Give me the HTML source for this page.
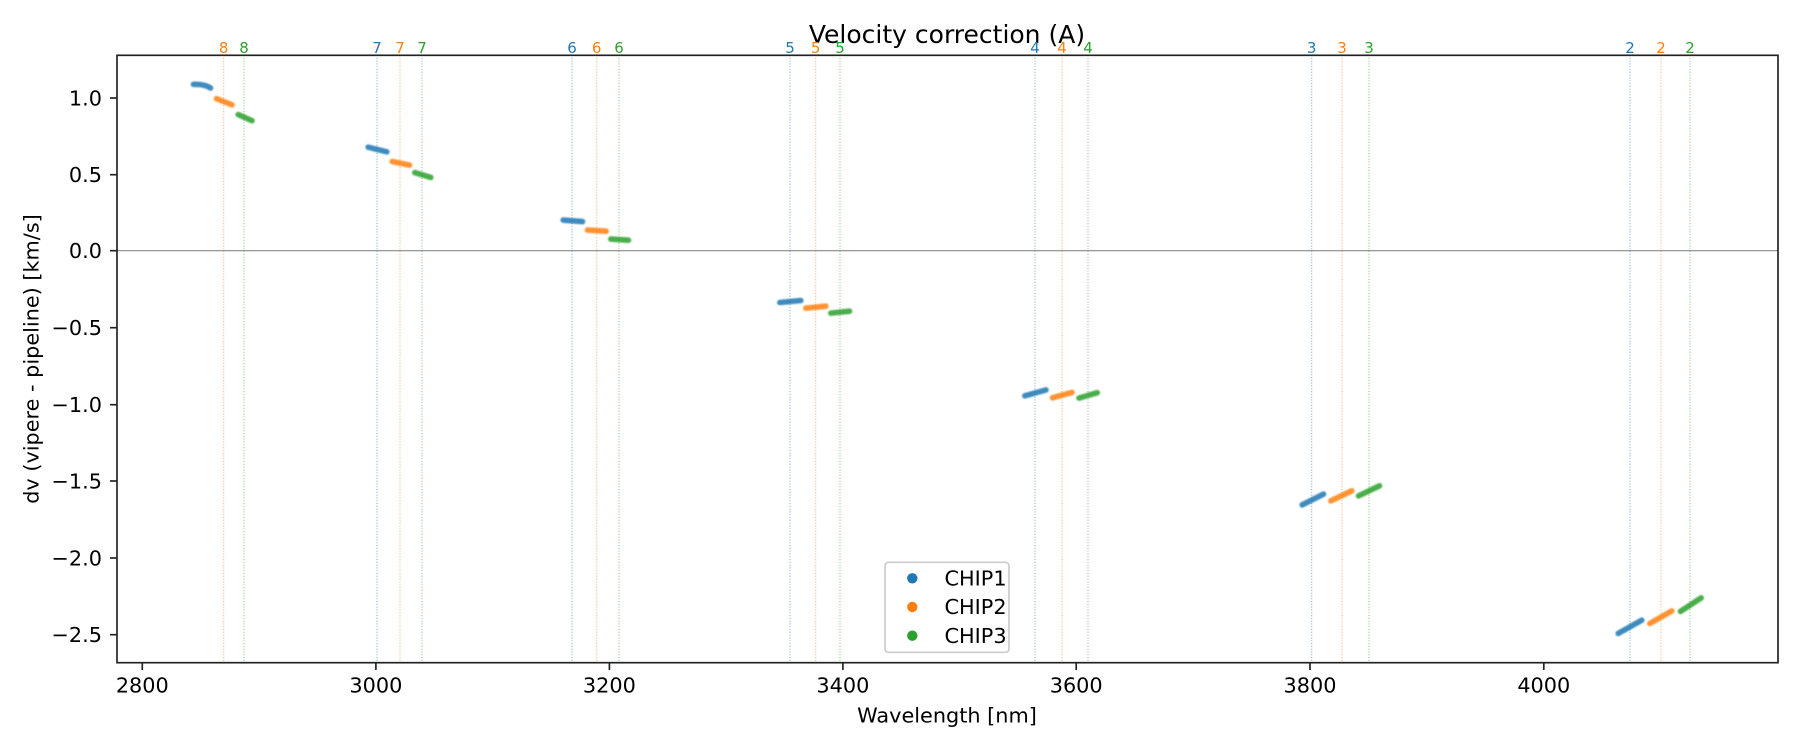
<!DOCTYPE html>
<html>
<head>
<meta charset="utf-8">
<style>
html,body{margin:0;padding:0;background:#fff;}
svg{display:block;}
text{font-family:"DejaVu Sans","Liberation Sans",sans-serif;}
</style>
</head>
<body>
<svg width="1800" height="750" viewBox="0 0 1800 750" xmlns="http://www.w3.org/2000/svg">
<defs>
<filter id="b" x="-20%" y="-50%" width="140%" height="200%"><feGaussianBlur stdDeviation="0.75"/></filter>
</defs>
<rect width="1800" height="750" fill="#fff"/>
<!-- title -->
<text x="947" y="43" font-size="25" text-anchor="middle" fill="#000">Velocity correction (A)</text>

<!-- vertical dotted lines -->
<g stroke-width="1.1" stroke-dasharray="1.1,1.7" opacity="0.55">
<line x1="223.7" y1="55" x2="223.7" y2="663" stroke="#ff7f0e"/>
<line x1="244" y1="55" x2="244" y2="663" stroke="#2ca02c"/>
<line x1="377" y1="55" x2="377" y2="663" stroke="#1f77b4"/>
<line x1="400" y1="55" x2="400" y2="663" stroke="#ff7f0e"/>
<line x1="422" y1="55" x2="422" y2="663" stroke="#2ca02c"/>
<line x1="572" y1="55" x2="572" y2="663" stroke="#1f77b4"/>
<line x1="596.7" y1="55" x2="596.7" y2="663" stroke="#ff7f0e"/>
<line x1="619" y1="55" x2="619" y2="663" stroke="#2ca02c"/>
<line x1="790" y1="55" x2="790" y2="663" stroke="#1f77b4"/>
<line x1="815.7" y1="55" x2="815.7" y2="663" stroke="#ff7f0e"/>
<line x1="840" y1="55" x2="840" y2="663" stroke="#2ca02c"/>
<line x1="1035" y1="55" x2="1035" y2="663" stroke="#1f77b4"/>
<line x1="1062" y1="55" x2="1062" y2="663" stroke="#ff7f0e"/>
<line x1="1088" y1="55" x2="1088" y2="663" stroke="#2ca02c"/>
<line x1="1311.7" y1="55" x2="1311.7" y2="663" stroke="#1f77b4"/>
<line x1="1342" y1="55" x2="1342" y2="663" stroke="#ff7f0e"/>
<line x1="1369" y1="55" x2="1369" y2="663" stroke="#2ca02c"/>
<line x1="1630" y1="55" x2="1630" y2="663" stroke="#1f77b4"/>
<line x1="1661" y1="55" x2="1661" y2="663" stroke="#ff7f0e"/>
<line x1="1690" y1="55" x2="1690" y2="663" stroke="#2ca02c"/>
</g>

<!-- order labels -->
<g font-size="15" text-anchor="middle">
<text x="223.7" y="53" fill="#ff7f0e">8</text>
<text x="244" y="53" fill="#2ca02c">8</text>
<text x="377" y="53" fill="#1f77b4">7</text>
<text x="400" y="53" fill="#ff7f0e">7</text>
<text x="422" y="53" fill="#2ca02c">7</text>
<text x="572" y="53" fill="#1f77b4">6</text>
<text x="596.7" y="53" fill="#ff7f0e">6</text>
<text x="619" y="53" fill="#2ca02c">6</text>
<text x="790" y="53" fill="#1f77b4">5</text>
<text x="815.7" y="53" fill="#ff7f0e">5</text>
<text x="840" y="53" fill="#2ca02c">5</text>
<text x="1035" y="53" fill="#1f77b4">4</text>
<text x="1062" y="53" fill="#ff7f0e">4</text>
<text x="1088" y="53" fill="#2ca02c">4</text>
<text x="1311.7" y="53" fill="#1f77b4">3</text>
<text x="1342" y="53" fill="#ff7f0e">3</text>
<text x="1369" y="53" fill="#2ca02c">3</text>
<text x="1630" y="53" fill="#1f77b4">2</text>
<text x="1661" y="53" fill="#ff7f0e">2</text>
<text x="1690" y="53" fill="#2ca02c">2</text>
</g>

<!-- zero line -->
<line x1="117" y1="250.7" x2="1778" y2="250.7" stroke="#888" stroke-width="1.1"/>

<!-- data segments -->
<g fill="none" stroke-width="5.6" stroke-linecap="round" stroke-linejoin="round" opacity="0.85" filter="url(#b)">
<path d="M193.5,84.3 L200,84.5 Q206.5,85.3 210.5,88" stroke="#1f77b4"/>
<path d="M216.5,98.7 L232,104.8" stroke="#ff7f0e"/>
<path d="M238.2,114.6 L252,120.7" stroke="#2ca02c"/>
<path d="M368.2,147.2 L386.8,151.8" stroke="#1f77b4"/>
<path d="M392.2,161.5 L409.5,165.1" stroke="#ff7f0e"/>
<path d="M414.8,172.6 L430.8,177.4" stroke="#2ca02c"/>
<path d="M563.2,220.1 L582.5,221.6" stroke="#1f77b4"/>
<path d="M587.5,230.1 L606.2,231.2" stroke="#ff7f0e"/>
<path d="M610.8,239.1 L628.5,240.2" stroke="#2ca02c"/>
<path d="M779.8,302.5 L800.8,300.5" stroke="#1f77b4"/>
<path d="M805.8,308.1 L825.8,306.2" stroke="#ff7f0e"/>
<path d="M830.8,313.1 L849.5,311.2" stroke="#2ca02c"/>
<path d="M1024.8,395.8 L1046,389.9" stroke="#1f77b4"/>
<path d="M1052.5,397.8 L1072,392.4" stroke="#ff7f0e"/>
<path d="M1079,398.1 L1097.3,392.7" stroke="#2ca02c"/>
<path d="M1302.2,504.9 L1323.5,494.1" stroke="#1f77b4"/>
<path d="M1330.8,500.9 L1351.8,490.8" stroke="#ff7f0e"/>
<path d="M1358.5,495.9 L1379.5,485.8" stroke="#2ca02c"/>
<path d="M1618.2,633.4 L1641.8,620.2" stroke="#1f77b4"/>
<path d="M1649.8,623.5 L1671.8,610.9" stroke="#ff7f0e"/>
<path d="M1680.5,611.4 L1701.2,597.9" stroke="#2ca02c"/>
</g>

<!-- spines -->
<rect x="117" y="55.3" width="1661" height="607.4" fill="none" stroke="#222" stroke-width="1.67"/>

<!-- y ticks -->
<g stroke="#222" stroke-width="1.67">
<line x1="110" y1="98" x2="117" y2="98"/>
<line x1="110" y1="174.7" x2="117" y2="174.7"/>
<line x1="110" y1="250.7" x2="117" y2="250.7"/>
<line x1="110" y1="327.7" x2="117" y2="327.7"/>
<line x1="110" y1="404.7" x2="117" y2="404.7"/>
<line x1="110" y1="481" x2="117" y2="481"/>
<line x1="110" y1="558" x2="117" y2="558"/>
<line x1="110" y1="634.7" x2="117" y2="634.7"/>
</g>
<g font-size="20.8" text-anchor="end" fill="#000">
<text x="102" y="105.5">1.0</text>
<text x="102" y="182.2">0.5</text>
<text x="102" y="258.2">0.0</text>
<text x="102" y="335.2">−0.5</text>
<text x="102" y="412.2">−1.0</text>
<text x="102" y="488.5">−1.5</text>
<text x="102" y="565.5">−2.0</text>
<text x="102" y="642.2">−2.5</text>
</g>

<!-- x ticks -->
<g stroke="#222" stroke-width="1.67">
<line x1="142.3" y1="663" x2="142.3" y2="670"/>
<line x1="375.9" y1="663" x2="375.9" y2="670"/>
<line x1="609.4" y1="663" x2="609.4" y2="670"/>
<line x1="842.9" y1="663" x2="842.9" y2="670"/>
<line x1="1076.2" y1="663" x2="1076.2" y2="670"/>
<line x1="1310" y1="663" x2="1310" y2="670"/>
<line x1="1543.8" y1="663" x2="1543.8" y2="670"/>
</g>
<g font-size="20.8" text-anchor="middle" fill="#000">
<text x="142.3" y="692.7">2800</text>
<text x="375.9" y="692.7">3000</text>
<text x="609.4" y="692.7">3200</text>
<text x="842.9" y="692.7">3400</text>
<text x="1076.2" y="692.7">3600</text>
<text x="1310" y="692.7">3800</text>
<text x="1543.8" y="692.7">4000</text>
</g>

<!-- axis labels -->
<text x="947" y="722.5" font-size="20.8" text-anchor="middle" fill="#000">Wavelength [nm]</text>
<text transform="translate(38.5,359) rotate(-90)" font-size="20.8" text-anchor="middle" fill="#000">dv (vipere - pipeline) [km/s]</text>

<!-- legend -->
<rect x="885" y="562.3" width="124" height="90" rx="3.5" ry="3.5" fill="#fff" fill-opacity="0.8" stroke="#cccccc" stroke-width="1.67"/>
<circle cx="912.3" cy="578.3" r="5.2" fill="#1f77b4"/>
<circle cx="912.3" cy="607" r="5.2" fill="#ff7f0e"/>
<circle cx="912.3" cy="635.7" r="5.2" fill="#2ca02c"/>
<g font-size="20.8" fill="#000">
<text x="944.5" y="585.5">CHIP1</text>
<text x="944.5" y="614.2">CHIP2</text>
<text x="944.5" y="642.9">CHIP3</text>
</g>
</svg>
</body>
</html>
